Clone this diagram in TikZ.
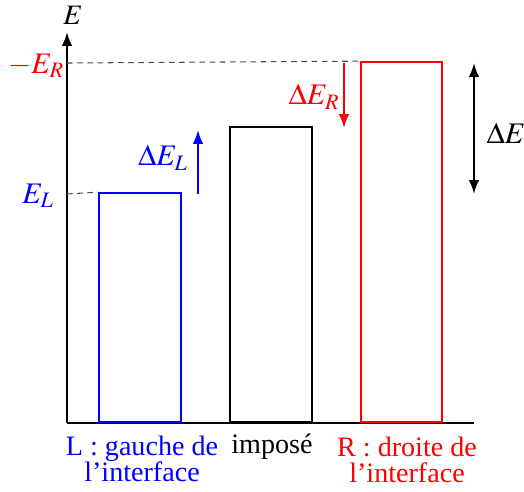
\documentclass[tikz,border=0pt]{standalone}
\usepackage{mathptmx}
\usepackage{fontspec}
\setmainfont{Liberation Serif}
\usetikzlibrary{arrows.meta,positioning}

\begin{document}
\begin{tikzpicture}[>=Latex, x=0.02cm, y=-0.02cm, font=\fontsize{16}{15}\selectfont]
    \useasboundingbox (0,0) rectangle (524,491);
    % axes
    \coordinate (O) at (67,423);
    \coordinate (Etop) at (67,32);
    \coordinate (xend) at (474,423);
    \draw[->, line width=1.1pt] (O) -- (Etop);
    \draw[line width=1.1pt] (O) -- (xend);
    \node (Elab) at (73,15) {$E$};
    % bands
    \node[draw=blue, line width=1.1pt, minimum width=1.64cm, minimum height=4.58cm, inner sep=0pt, anchor=south] (gauche) at (140,423) {};
    \node[draw=black, line width=1.1pt, minimum width=1.64cm, minimum height=5.9cm, inner sep=0pt, anchor=south] (impose) at (271,423) {};
    \node[draw=red, line width=1.1pt, minimum width=1.62cm, minimum height=7.2cm, inner sep=0pt, anchor=south] (droite) at (401.5,423) {};
    % levels
    \coordinate (ER) at (67,63);
    \coordinate (EL) at (67,194);
    \draw[dash pattern=on 3.2pt off 2.6pt, gray!60!black, line width=0.6pt] (ER) -- (droite.north west);
    \draw[dash pattern=on 3.2pt off 2.6pt, gray!60!black, line width=0.6pt] (EL) -- (gauche.north west);
    \node[red, font=\fontsize{17}{17}\selectfont] (ERlab) at (36,66) {$-E_R$};
    \node[blue, font=\fontsize{17}{17}\selectfont] (ELlab) at (38,196) {$E_L$};
    % shifts
    \coordinate (dl0) at (198,194);
    \coordinate (dl1) at (198,130);
    \draw[->, blue, line width=1.1pt] (dl0) -- (dl1);
    \node[blue, font=\fontsize{17}{17}\selectfont] (dELlab) at (163,158) {$\Delta E_L$};
    \coordinate (dr0) at (344,63);
    \coordinate (dr1) at (344,128);
    \draw[->, red, line width=1.1pt] (dr0) -- (dr1);
    \node[red, font=\fontsize{17}{17}\selectfont] (dERlab) at (314,97) {$\Delta E_R$};
    \coordinate (de0) at (474,63);
    \coordinate (de1) at (474,194);
    \draw[<->, line width=1.1pt] (de0) -- (de1);
    \node[font=\fontsize{17}{17}\selectfont] (dElab) at (506,133) {$\Delta E$};
    % labels under the bands
    \node[blue, align=center] (glab) at (142,459) {L : gauche de\\l'interface};
    \node (ilab) at (272,447) {imposé};
    \node[red, align=center] (dlab) at (407,460) {R : droite de\\l'interface};
\end{tikzpicture}
\end{document}
